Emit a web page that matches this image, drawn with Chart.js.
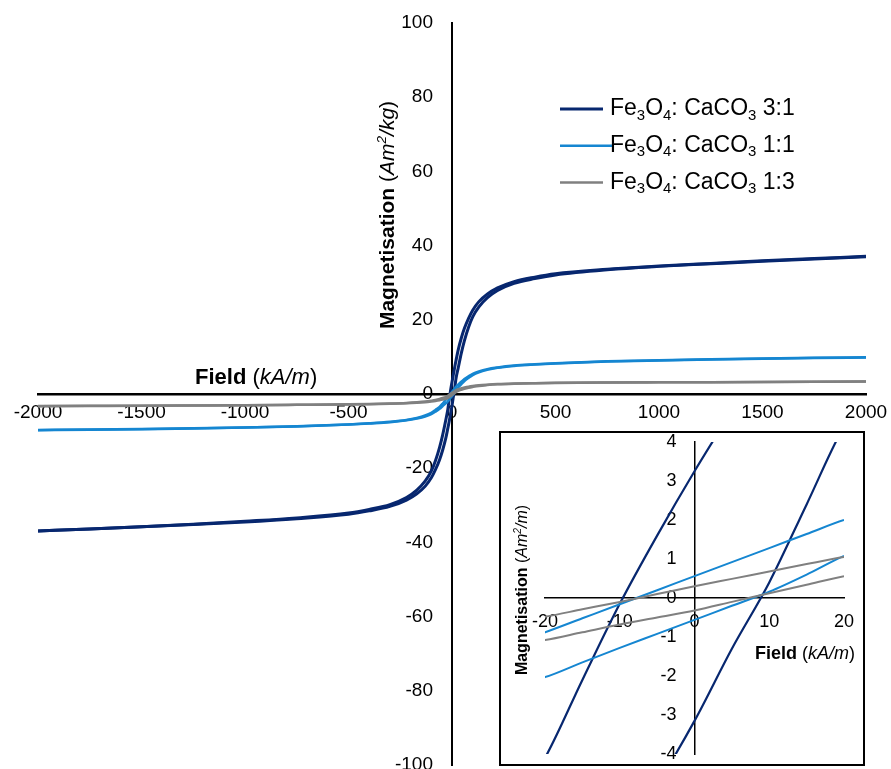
<!DOCTYPE html>
<html>
<head>
<meta charset="utf-8">
<title>Magnetisation of Fe3O4 : CaCO3 samples</title>
<script src="https://cdn.jsdelivr.net/npm/chart.js@4.4.1/dist/chart.umd.min.js"></script>
<style>
  html, body { margin: 0; padding: 0; background: #fff; overflow: hidden; width: 891px; height: 769px; }
  #page { position: relative; width: 891px; height: 769px; overflow: hidden; }
  #mainChart { position: absolute; left: -30px; top: -30px; }
  #insetBox { position: absolute; left: 499px; top: 431px; width: 362px; height: 331px; border: 2px solid #000; background: #fff; }
  #insetChart { position: absolute; left: 470px; top: 400px; }
</style>
</head>
<body>
<div id="page">
  <canvas id="mainChart" width="951" height="829"></canvas>
  <div id="insetBox"></div>
  <canvas id="insetChart" width="440" height="400"></canvas>
</div>
<script>
const FONT = "'Liberation Sans', Arial, sans-serif";

// Field (kA/m), shared by every branch
const field = [-2000, -1750, -1500, -1250, -1000, -750, -500, -400, -300, -220, -170, -130, -100, -80, -60, -45, -30,
  -20, -15, -10, -5, 0, 5, 10, 15, 20,
  30, 45, 60, 80, 100, 130, 170, 220, 300, 400, 500, 750, 1000, 1250, 1500, 1750, 2000];

// Magnetisation (Am2/kg): descending (upper) and ascending (lower) branch of each loop
const navyUpper = [-36.9, -36.4, -35.8, -35.1, -34.3, -33.4, -32.1, -31.1, -29.8, -27.9, -25.9, -23.5, -20.8, -18.0, -14.4, -11.0, -7.0,
  -4.1, -2.1, -0.15, 1.6, 3.25, 4.8, 6.3, 7.8, 9.2,
  11.9, 15.1, 17.7, 20.4, 22.6, 24.9, 26.9, 28.6, 30.3, 31.5, 32.4, 33.6, 34.5, 35.2, 35.9, 36.5, 37.1];
const navyLower = [-36.9, -36.4, -35.8, -35.2, -34.5, -33.6, -32.4, -31.5, -30.3, -28.6, -26.9, -24.9, -22.6, -20.4, -17.7, -15.1, -11.9,
  -9.2, -7.8, -6.3, -4.8, -3.15, -1.3, 0.4, 2.4, 4.4,
  7.0, 11.0, 14.4, 18.0, 20.8, 23.5, 25.9, 27.9, 29.8, 31.1, 32.1, 33.5, 34.4, 35.1, 35.8, 36.4, 37.0];
const blueUpper = [-9.7, -9.6, -9.45, -9.25, -9.0, -8.7, -8.2, -7.9, -7.5, -7.0, -6.45, -5.8, -5.05, -4.3, -3.45, -2.55, -1.55,
  -0.88, -0.52, -0.16, 0.2, 0.56, 0.92, 1.28, 1.64, 2.0,
  2.5, 3.3, 4.05, 4.8, 5.45, 6.1, 6.7, 7.15, 7.65, 8.0, 8.3, 8.8, 9.1, 9.35, 9.55, 9.75, 9.9];
const blueLower = [-9.75, -9.65, -9.5, -9.3, -9.05, -8.75, -8.25, -7.95, -7.6, -7.1, -6.6, -6.05, -5.4, -4.75, -4.0, -3.25, -2.5,
  -2.03, -1.65, -1.28, -0.92, -0.56, -0.2, 0.16, 0.6, 1.08,
  1.75, 2.65, 3.5, 4.35, 5.1, 5.85, 6.5, 7.05, 7.55, 7.95, 8.25, 8.75, 9.05, 9.3, 9.5, 9.7, 9.85];
const greyUpper = [-3.25, -3.2, -3.15, -3.08, -3.0, -2.9, -2.78, -2.7, -2.58, -2.42, -2.25, -2.05, -1.8, -1.6, -1.32, -1.05, -0.75,
  -0.48, -0.29, -0.1, 0.1, 0.3, 0.49, 0.68, 0.87, 1.05,
  1.3, 1.55, 1.75, 1.98, 2.15, 2.35, 2.52, 2.68, 2.82, 2.92, 3.0, 3.1, 3.15, 3.2, 3.25, 3.3, 3.35];
const greyLower = [-3.27, -3.22, -3.17, -3.1, -3.03, -2.93, -2.82, -2.75, -2.64, -2.5, -2.36, -2.2, -2.02, -1.88, -1.7, -1.52, -1.3,
  -1.08, -0.88, -0.68, -0.5, -0.32, -0.1, 0.12, 0.34, 0.56,
  0.85, 1.15, 1.4, 1.68, 1.9, 2.18, 2.4, 2.6, 2.78, 2.9, 2.98, 3.08, 3.14, 3.19, 3.24, 3.29, 3.34];

const ratios = ['3:1', '1:1', '1:3'];
const colours = ['#07276f', '#1586d1', '#808080'];

// axis ranges and tick steps
const mainFieldRange = [-2000, 2000];
const mainMagRange = [-100, 100];
const insetFieldRange = [-20, 20];
const insetMagRange = [-4, 4];

const branches = [[navyUpper, navyLower], [blueUpper, blueLower], [greyUpper, greyLower]];

function buildDatasets(widths) {
  const sets = [];
  branches.forEach((pair, k) => {
    pair.forEach(values => {
      sets.push({
        label: 'Fe\u2083O\u2084 : CaCO\u2083 ' + ratios[k],
        data: field.map((h, i) => ({ x: h, y: values[i] })),
        showLine: true,
        borderColor: colours[k],
        backgroundColor: colours[k],
        borderWidth: widths[k],
        pointRadius: 0,
        cubicInterpolationMode: 'monotone',
        order: 2 - k
      });
    });
  });
  return sets;
}

// draw text made of runs (bold / italic / sub / sup), returns width
function drawRuns(ctx, runs, x, y, size, measureOnly) {
  let cx = x;
  runs.forEach(r => {
    const small = r.sub || r.sup;
    const s = small ? size * 0.65 : size;
    ctx.font = (r.i ? 'italic ' : '') + (r.b ? 'bold ' : '') + s + 'px ' + FONT;
    const dy = r.sub ? size * 0.2 : (r.sup ? -size * 0.38 : 0);
    if (!measureOnly) ctx.fillText(r.t, cx, y + dy);
    cx += ctx.measureText(r.t).width;
  });
  return cx - x;
}

function drawVertical(ctx, runs, baseX, centreY, size) {
  ctx.save();
  ctx.translate(baseX, centreY);
  ctx.rotate(-Math.PI / 2);
  const w = drawRuns(ctx, runs, 0, 0, size, true);
  drawRuns(ctx, runs, -w / 2, 0, size);
  ctx.restore();
}

function scaleOptions(range, step, pos, fontSize, borderWidth, padding, isY) {
  return {
    type: 'linear',
    min: range[0],
    max: range[1],
    position: pos,
    grid: { display: false, drawTicks: false },
    border: { display: true, color: '#000', width: borderWidth },
    ticks: {
      stepSize: step,
      autoSkip: false,
      maxRotation: 0,
      padding: padding,
      color: '#000',
      font: { family: FONT, size: fontSize },
      callback: isY ? (v => v + '\u2002\u2002') : (v => String(v))
    }
  };
}

// titles and legend of the main chart (page coordinates, canvas is shifted by 30px)
const mainDecor = {
  id: 'mainDecor',
  afterDraw(chart) {
    const ctx = chart.ctx;
    ctx.save();
    ctx.translate(30, 30);
    ctx.fillStyle = '#000';
    ctx.textBaseline = 'alphabetic';
    drawRuns(ctx, [{ t: 'Field ', b: 1 }, { t: '(' }, { t: 'kA/m', i: 1 }, { t: ')' }], 195, 384, 22);
    drawVertical(ctx, [{ t: 'Magnetisation ', b: 1 }, { t: '(' }, { t: 'Am', i: 1 }, { t: '2', sup: 1, i: 1 }, { t: '/kg', i: 1 }, { t: ')' }], 394, 215, 21);

    const lineEnds = [603, 612, 603];
    ratios.forEach((r, i) => {
      const base = 115 + i * 36.8;
      ctx.strokeStyle = colours[i];
      ctx.lineWidth = i === 0 ? 3 : 2.5;
      ctx.beginPath();
      ctx.moveTo(560, base - 6);
      ctx.lineTo(lineEnds[i], base - 6);
      ctx.stroke();
      ctx.fillStyle = '#000';
      drawRuns(ctx, [{ t: 'Fe' }, { t: '3', sub: 1 }, { t: 'O' }, { t: '4', sub: 1 }, { t: ': CaCO' }, { t: '3', sub: 1 }, { t: ' ' + r }], 610, base, 23);
    });
    ctx.restore();
  }
};

const insetDecor = {
  id: 'insetDecor',
  afterDraw(chart) {
    const ctx = chart.ctx;
    ctx.save();
    ctx.translate(-470, -400);
    ctx.fillStyle = '#000';
    drawRuns(ctx, [{ t: 'Field ', b: 1 }, { t: '(' }, { t: 'kA/m', i: 1 }, { t: ')' }], 755, 659, 18);
    drawVertical(ctx, [{ t: 'Magnetisation ', b: 1 }, { t: '(' }, { t: 'Am', i: 1 }, { t: '2', sup: 1, i: 1 }, { t: '/m', i: 1 }, { t: ')' }], 527, 590, 16);
    ctx.restore();
  }
};

new Chart(document.getElementById('mainChart').getContext('2d'), {
  type: 'scatter',
  data: { datasets: buildDatasets([3, 2.5, 2.5]) },
  options: {
    responsive: false,
    animation: false,
    devicePixelRatio: 1,
    layout: { padding: { left: 68, right: 55, top: 53, bottom: 34 } },
    plugins: { legend: { display: false }, tooltip: { enabled: false } },
    scales: {
      x: scaleOptions(mainFieldRange, 500, { y: 0 }, 19, 2.5, 7, false),
      y: scaleOptions(mainMagRange, 20, { x: 0 }, 19, 2, 0, true)
    }
  },
  plugins: [mainDecor]
});

new Chart(document.getElementById('insetChart').getContext('2d'), {
  type: 'scatter',
  data: { datasets: buildDatasets([2.2, 2, 2]) },
  options: {
    responsive: false,
    animation: false,
    devicePixelRatio: 1,
    layout: { padding: { left: 75, right: 66, top: 42, bottom: 46 } },
    plugins: { legend: { display: false }, tooltip: { enabled: false } },
    scales: {
      x: scaleOptions(insetFieldRange, 10, { y: 0 }, 18, 1.5, 13, false),
      y: scaleOptions(insetMagRange, 1, { x: 0 }, 18, 1.5, 0, true)
    }
  },
  plugins: [insetDecor]
});
</script>
</body>
</html>
